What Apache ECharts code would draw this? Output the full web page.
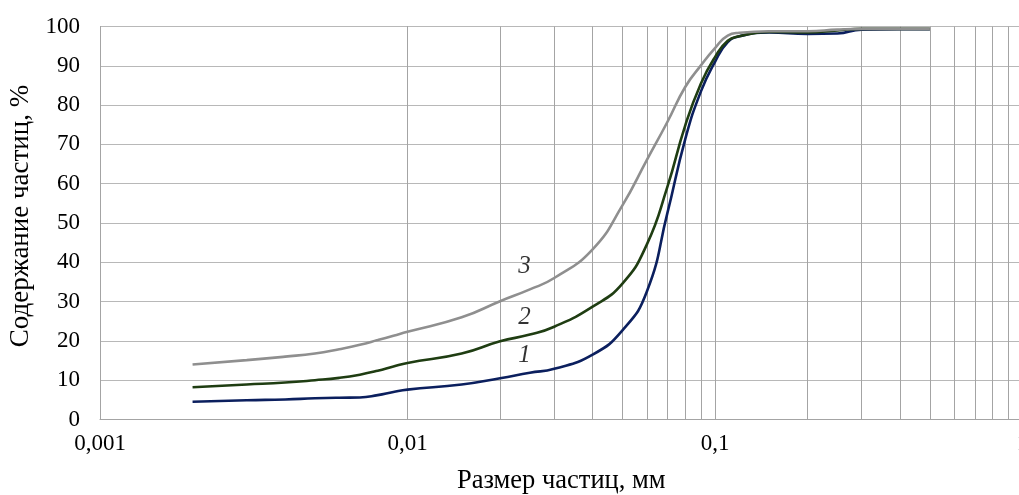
<!DOCTYPE html>
<html><head><meta charset="utf-8">
<script src="https://cdn.jsdelivr.net/npm/echarts@6/dist/echarts.min.js"></script>
<style>html,body{margin:0;padding:0;background:#fff}#c{width:1019px;height:495px}</style>
</head><body><div id="c"></div>
<script>
// particle sizes, mm
const sizes = [0.002,0.003,0.004,0.005,0.006,0.007,0.008,0.009,0.01,0.015,0.02,0.025,0.03,0.04,0.05,0.06,0.07,0.08,0.09,0.1,0.11,0.12,0.15,0.2,0.25,0.3,0.4,0.5];
const curve1 = [4.5,4.9,5.1,5.4,5.55,5.6,6.2,7.0,7.6,8.9,10.5,11.9,12.9,16.5,22.7,32.5,52.5,71.3,83.5,91.0,96.0,97.5,98.5,98.1,98.2,99.2,99.3,99.3];
const curve2 = [8.2,8.9,9.4,10.0,10.6,11.4,12.4,13.5,14.4,16.8,19.9,21.6,23.6,28.7,34.6,44.5,59.2,74.8,85.5,92.2,96.4,97.5,98.6,98.5,99.0,99.4,99.4,99.4];
const curve3 = [14.0,15.1,16.0,16.8,17.9,19.0,20.2,21.3,22.3,26.0,30.1,33.1,36.0,43.3,54.5,66.0,75.7,84.6,90.1,94.5,97.7,98.4,98.8,98.8,99.2,99.4,99.4,99.4];
const curveNames = ['1','2','3'];
const curveColors = ['#0b1f5e','#1f3d12','#8f8f8f'];
// curve label anchors [x, y]
const labelPos = [[0.024,16.4],[0.024,26.0],[0.024,39.0]];
// x tick labels by decade exponent
const xTickLabels = {'-3':'0,001','-2':'0,01','-1':'0,1','0':'1'};
// minor vertical grid lines
const minorGrid = [0.002,0.003,0.004,0.005,0.006,0.007,0.008,0.009,0.02,0.03,0.04,0.05,0.06,0.07,0.08,0.09,0.2,0.3,0.4,0.5,0.6,0.7,0.8,0.9];

const FONT = '"Liberation Serif", "Times New Roman", serif';
const curves = [curve1, curve2, curve3];
const series = curves.map((c, i) => ({
  name: curveNames[i], type: 'line', smooth: 0.5,
  symbol: 'none', z: 5,
  lineStyle: {color: curveColors[i], width: 2.6},
  data: sizes.map((s, j) => [s, c[j]])
}));
series.unshift({
  type: 'line', data: [], silent: true, z: 1,
  markLine: {
    silent: true, symbol: ['none','none'], label: {show: false},
    lineStyle: {color: '#a4a4a4', width: 1, type: 'solid'},
    animation: false,
    data: minorGrid.map(v => ({xAxis: v}))
  }
});
series.push({
  type: 'scatter', symbolSize: 0, z: 6, silent: true,
  data: labelPos.map((p, i) => ({value: p, name: curveNames[i]})),
  label: {show: true, position: 'inside', formatter: p => p.name,
    fontFamily: FONT, fontStyle: 'italic', fontSize: 25, color: '#000'}
});

const chart = echarts.init(document.getElementById('c'), null, {renderer: 'canvas'});
chart.setOption({
  animation: false,
  grid: {left: 100, top: 26.5, width: 922.5, height: 393, containLabel: false, outerBoundsMode: 'none'},
  xAxis: {
    type: 'log', logBase: 10, min: 0.001, max: 1,
    name: 'Размер частиц, мм', nameLocation: 'middle', nameGap: 48,
    nameTextStyle: {fontFamily: FONT, fontSize: 26.5, color: '#000'},
    axisLine: {lineStyle: {color: '#a4a4a4', width: 1}},
    axisTick: {show: false},
    axisLabel: {fontFamily: FONT, fontSize: 23, color: '#000', margin: 13,
      formatter: v => xTickLabels[String(Math.round(Math.log10(v)))] || ''},
    splitLine: {show: true, lineStyle: {color: '#a4a4a4', width: 1}}
  },
  yAxis: {
    type: 'value', min: 0, max: 100, interval: 10,
    name: 'Содержание частиц, %', nameLocation: 'middle', nameGap: 64,
    nameTextStyle: {fontFamily: FONT, fontSize: 27, color: '#000', padding: [0, 0, 0, 14]},
    axisLine: {show: true, lineStyle: {color: '#a4a4a4', width: 1}},
    axisTick: {show: false},
    axisLabel: {fontFamily: FONT, fontSize: 23, color: '#000', margin: 20},
    splitLine: {show: true, lineStyle: {color: '#b8b8b8', width: 1}}
  },
  series: series
});
</script></body></html>
